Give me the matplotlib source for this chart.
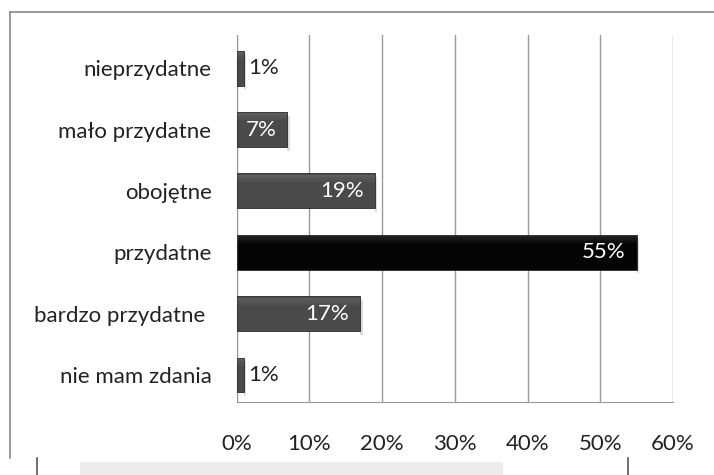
import matplotlib.pyplot as plt
from matplotlib.patches import Rectangle
from matplotlib.lines import Line2D

categories = ["nieprzydatne", "mało przydatne", "obojętne", "przydatne",
              "bardzo przydatne ", "nie mam zdania"]
values = [1, 7, 19, 55, 17, 1]
bar_colors = ["#4a4a4a", "#4a4a4a", "#4a4a4a", "#050505", "#4a4a4a", "#4a4a4a"]
xticks = [0, 10, 20, 30, 40, 50, 60]
xtick_labels = ["0%", "10%", "20%", "30%", "40%", "50%", "60%"]

plt.rcParams['font.family'] = ['Lato', 'DejaVu Sans']

fig = plt.figure(figsize=(7.14, 4.75), dpi=100)
fig.patch.set_facecolor("white")

# outer frame pieces (as in the scanned source)
fig.add_artist(Line2D([10/714, 10/714], [1-12/475, 1-458/475], color="#888888", lw=1.2))
fig.add_artist(Line2D([10/714, 1.0], [1-12/475, 1-12/475], color="#888888", lw=1.2))
fig.add_artist(Line2D([37/714, 37/714], [1-458/475, 0], color="#555555", lw=1.2))
fig.add_artist(Line2D([628/714, 628/714], [1-458/475, 0], color="#555555", lw=1.2))
fig.add_artist(Rectangle((80/714, 0), 423/714, 13/475, transform=fig.transFigure,
                         facecolor="#ececec", edgecolor="none"))

ax = fig.add_axes([236.5/714, 1-402/475, (673-236.5)/714, (402-35)/475])
pos = list(range(len(categories)))
bars = ax.barh(pos, values, height=0.57, color=bar_colors, edgecolor="#2a2a2a",
               linewidth=0.6, zorder=3)

# soft highlight on top part, light shadow on the right of each bar
for b, v in zip(bars, values):
    y0 = b.get_y()
    h = b.get_height()
    for k in range(4):
        ax.add_patch(Rectangle((0, y0 + h * (0.04 + 0.05 * k)), v, h * 0.05,
                               facecolor="white", alpha=0.10 - 0.02 * k,
                               edgecolor="none", zorder=4))
    ax.add_patch(Rectangle((v, y0 + h * 0.1), 0.35, h, facecolor="#bbbbbb",
                           alpha=0.5, edgecolor="none", zorder=2))

for p, v in zip(pos, values):
    if v >= 5:
        ax.text(v - 1.5, p, f"{v}%", ha="right", va="center", color="white",
                fontsize=16, zorder=5)
    else:
        ax.text(v + 0.6, p, f"{v}%", ha="left", va="center", color="#222222",
                fontsize=16, zorder=5)

ax.set_xlim(0, 60)
ax.set_ylim(5.44, -0.54)
ax.set_xticks(xticks)
ax.set_xticklabels(xtick_labels)
ax.set_yticks(pos)
ax.set_yticklabels(categories)
ax.tick_params(axis="x", length=0, pad=23, labelsize=16, labelcolor="#222222")
ax.tick_params(axis="y", length=0, pad=18, labelsize=16, labelcolor="#222222")
ax.xaxis.grid(True, color="#999999", lw=1, zorder=0)
for s in ["top", "right"]:
    ax.spines[s].set_visible(False)
ax.spines["left"].set_color("#999999")
ax.spines["bottom"].set_color("#999999")

fig.savefig("out.png", dpi=100)
